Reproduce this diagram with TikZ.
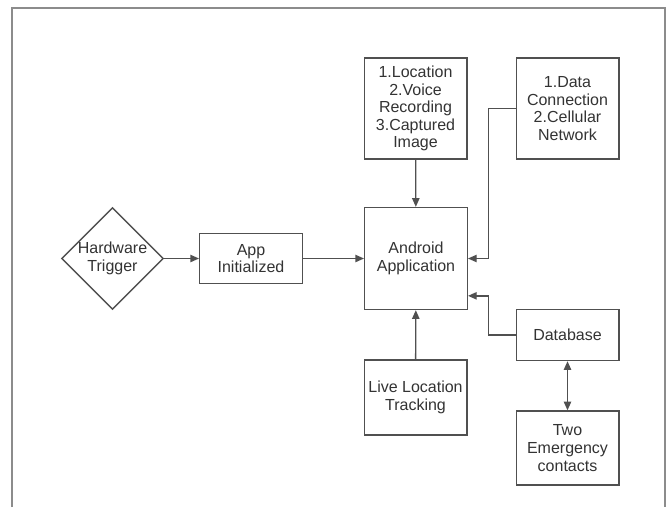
\documentclass[tikz,border=0pt]{standalone}
\usepackage{fontspec}
\setmainfont{Liberation Sans}
\usetikzlibrary{arrows.meta, positioning, shapes.geometric}
\definecolor{cline}{HTML}{505050}
\definecolor{ctext}{HTML}{333333}
\definecolor{cframe}{HTML}{8C8C8C}
\tikzset{
  every picture/.style={line width=1pt},
  box/.style={draw=cline, fill=white, align=center, inner sep=2pt, minimum width=77pt, text=ctext, font=\fontsize{12}{13.2}\selectfont},
  decision/.style={box, diamond, minimum width=76pt, minimum height=76pt, inner sep=0pt},
  arrow/.style={-{Triangle[length=6.5pt, width=5.5pt]}, draw=cline},
  both/.style={{Triangle[length=6.5pt, width=5.5pt]}-{Triangle[length=6.5pt, width=5.5pt]}, draw=cline},
}
\begin{document}
\begin{tikzpicture}[x=0.75pt, y=-0.75pt]
  \useasboundingbox (0,0) rectangle (670,507);
  % frame
  \draw[cframe, line width=1.5pt] (12,507) -- (12,8) -- (665,8) -- (665,507);
  % nodes
  \node[decision] (hw) at (112.5,258.5) {Hardware\\Trigger};
  \node[box, minimum height=37.5pt] (app) at (251,258.5) {App\\Initialized};
  \node[box, minimum height=76.5pt] (android) at (416,258.5) {Android\\Application};
  \node[box, minimum height=75.75pt] (loc) at (415.5,108.5) {1.Location\\2.Voice\\Recording\\3.Captured\\Image};
  \node[box, minimum height=75.75pt] (data) at (567.5,108.5) {1.Data\\Connection\\2.Cellular\\Network};
  \node[box, minimum height=56.25pt] (live) at (415.5,397.5) {Live Location\\Tracking};
  \node[box, minimum height=38.25pt] (db) at (567.5,335) {Database};
  \node[box, minimum height=55.5pt] (two) at (567.5,448) {Two\\Emergency\\contacts};
  % connectors
  \draw[arrow] (hw) -- (app);
  \draw[arrow] (app) -- (android);
  \draw[arrow] (loc) -- (android);
  \draw[arrow] (live) -- (android);
  \draw[arrow] (data.west) -- ++(-27,0) |- (android.east);
  \draw[arrow] (db.west) -- ++(-27,0) |- ([yshift=-28pt]android.east);
  \draw[both] (db) -- (two);
\end{tikzpicture}
\end{document}
